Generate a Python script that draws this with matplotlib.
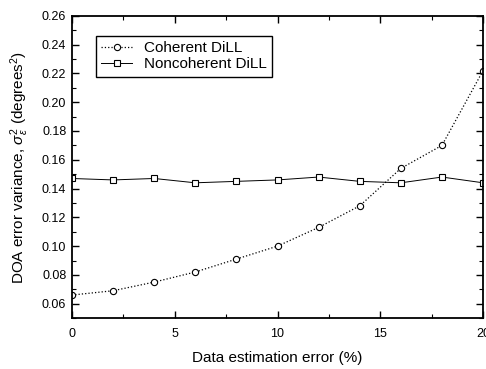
import numpy as np
import matplotlib
matplotlib.use("Agg")
import matplotlib.pyplot as plt
from matplotlib.ticker import MultipleLocator

# data
err_pct = [0, 2, 4, 6, 8, 10, 12, 14, 16, 18, 20]
coherent = [0.066, 0.069, 0.075, 0.082, 0.091, 0.100, 0.113, 0.128, 0.154, 0.170, 0.222]
noncoherent = [0.147, 0.146, 0.147, 0.144, 0.145, 0.146, 0.148, 0.145, 0.144, 0.148, 0.144]
labels = ["Coherent DiLL", "Noncoherent DiLL"]

plt.rcParams['font.family'] = ['Liberation Sans', 'DejaVu Sans']
plt.rcParams['mathtext.fontset'] = 'custom'
plt.rcParams['mathtext.it'] = 'Liberation Sans:italic'
plt.rcParams['mathtext.rm'] = 'Liberation Sans'

fig = plt.figure(figsize=(4.86, 3.69), dpi=100)
ax = fig.add_axes([0.148, 0.138, 0.846, 0.819])

ax.plot(err_pct, coherent, linestyle=':', color='black', linewidth=0.9,
        marker='o', markersize=4.5, markerfacecolor='white', markeredgewidth=0.8,
        label=labels[0])
ax.plot(err_pct, noncoherent, linestyle='-', color='black', linewidth=0.7,
        marker='s', markersize=4.5, markerfacecolor='white', markeredgewidth=0.8,
        label=labels[1])

ax.set_xlim(0, 20)
ax.set_ylim(0.05, 0.26)
ax.xaxis.set_major_locator(MultipleLocator(5))
ax.xaxis.set_minor_locator(MultipleLocator(2.5))
ax.yaxis.set_minor_locator(MultipleLocator(0.01))
ax.set_yticks(np.arange(0.06, 0.261, 0.02))
ax.yaxis.set_major_formatter(plt.FormatStrFormatter('%.2f'))
ax.tick_params(which='both', direction='in', top=True, right=True, labelsize=9)
ax.tick_params(axis='x', pad=7)
ax.tick_params(axis='y', pad=4)
ax.tick_params(which='major', length=5, width=1)
ax.tick_params(which='minor', length=3, width=0.8)
for s in ax.spines.values():
    s.set_linewidth(1.3)

ax.set_xlabel("Data estimation error (%)", fontsize=11, labelpad=8)
ax.set_ylabel(r"DOA error variance, $\sigma_{\epsilon}^{2}$ (degrees$^{2}$)", fontsize=11, labelpad=8)

leg = ax.legend(loc='upper left', bbox_to_anchor=(0.04, 0.96), fontsize=11,
                fancybox=False, edgecolor='black', framealpha=1,
                handlelength=2.0, borderpad=0.35, labelspacing=0.15)
leg.get_frame().set_linewidth(1.0)

fig.savefig("out.png", dpi=100)
